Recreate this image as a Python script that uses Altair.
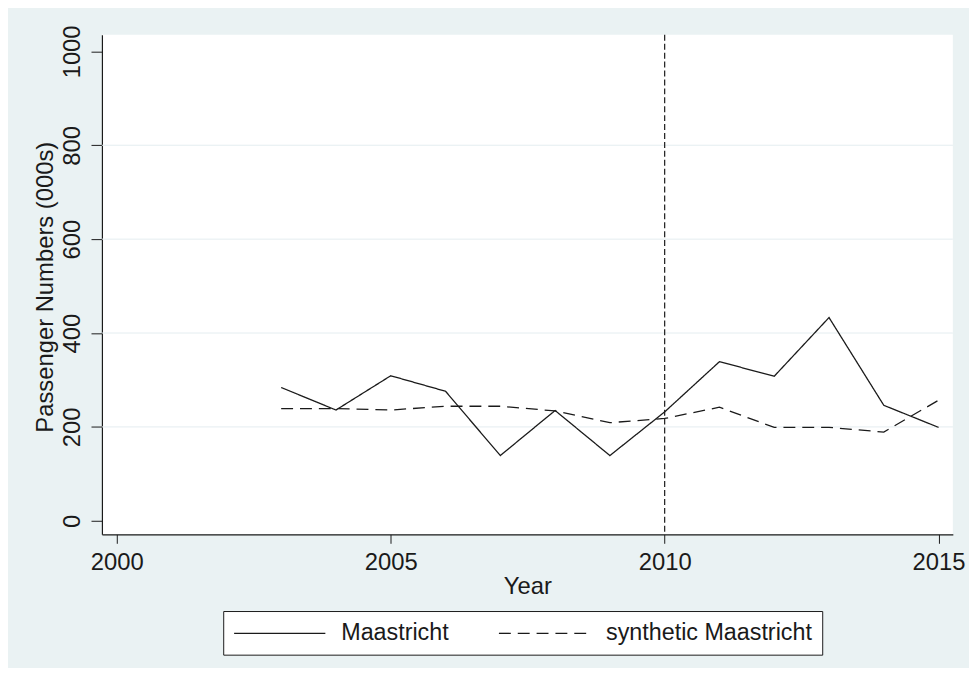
import altair as alt
import pandas as pd

# ---- data ----
years = [2003, 2004, 2005, 2006, 2007, 2008, 2009, 2010, 2011, 2012, 2013, 2014, 2015]
maastricht = [284, 236, 309, 276, 139, 235, 139, 232, 339, 308, 433, 246, 199]
synthetic = [239, 239, 236, 244, 244, 234, 209, 218, 242, 199, 199, 189, 257]
series_names = ["Maastricht", "synthetic Maastricht"]
grid_values = [200, 400, 600, 800]
y_ticks = [0, 200, 400, 600, 800, 1000]
x_ticks = [2000, 2005, 2010, 2015]
treatment_year = [2010]

rows = []
for y, a, b in zip(years, maastricht, synthetic):
    rows.append({"year": y, "value": a, "series": series_names[0]})
    rows.append({"year": y, "value": b, "series": series_names[1]})
df = pd.DataFrame(rows)
grid_df = pd.DataFrame({"value": grid_values})
vline_df = pd.DataFrame({"year": treatment_year})

FONT = "Liberation Sans"
INK = "#1a1a1a"

x_scale = alt.Scale(domain=[1999.728, 2015.26], nice=False, zero=False)
y_scale = alt.Scale(domain=[-28.9, 1035.3], nice=False, zero=False)

x_axis = alt.Axis(
    values=x_ticks, format="d", title="Year", grid=False,
    tickSize=9, labelPadding=7, labelFontSize=24, labelFont=FONT,
    labelColor=INK, titleFontSize=24, titleFont=FONT,
    titleFontWeight="normal", titleColor=INK,
    titleX=429, titleY=60, titleBaseline="alphabetic", titleAlign="center",
    labelFlush=False, labelOverlap=False,
)
y_axis = alt.Axis(
    values=y_ticks, format="d", title="Passenger Numbers (000s)", grid=False,
    tickSize=11, labelPadding=7, labelAngle=270, labelAlign="center",
    labelBaseline="bottom", labelFontSize=24, labelFont=FONT,
    labelColor=INK, titleFontSize=24, titleFont=FONT,
    titleFontWeight="normal", titleColor=INK, titleAngle=270,
    titleX=-49.7, titleY=254, titleAlign="center",
    titleBaseline="alphabetic", labelFlush=False, labelOverlap=False,
)

grid = alt.Chart(grid_df).mark_rule(color="#e4edf0", strokeWidth=1).encode(
    y=alt.Y("value:Q", scale=y_scale, axis=y_axis, title="Passenger Numbers (000s)")
)

lines = alt.Chart(df).mark_line(color=INK, strokeWidth=1.3).encode(
    x=alt.X("year:Q", scale=x_scale, axis=x_axis, title="Year"),
    y=alt.Y("value:Q", scale=y_scale, axis=y_axis, title="Passenger Numbers (000s)"),
    strokeDash=alt.StrokeDash(
        "series:N",
        scale=alt.Scale(domain=series_names, range=[[1, 0], [12, 7]]),
        legend=alt.Legend(
            title=None, orient="none", legendX=122.3, legendY=581,
            direction="horizontal", symbolType="M-1,0H7", symbolSize=529,
            symbolStrokeWidth=1.3, symbolStrokeColor=INK, labelFontSize=23.5,
            labelFont=FONT, labelColor=INK, labelOffset=84, columnPadding=47,
            labelLimit=500, padding=10, strokeColor=INK, fillColor="white",
        ),
    ),
)

vline = alt.Chart(vline_df).mark_rule(color=INK, strokeWidth=1.2, strokeDash=[6, 3]).encode(
    x=alt.X("year:Q", scale=x_scale, axis=x_axis, title="Year")
)

chart = (
    alt.layer(grid, lines, vline)
    .properties(
        width=858,
        height=503.7,
        background="#eaf2f3",
        autosize=alt.AutoSizeParams(type="none"),
        padding={"left": 94.7, "top": 24.3, "right": 16.3, "bottom": 132},
    )
    .configure_view(fill="white", stroke=None)
    .configure_axis(grid=False, domainColor=INK, domainWidth=1.2, tickColor=INK, tickWidth=1)
)

chart.save("out.html", embed_options={"renderer": "svg", "actions": False})
